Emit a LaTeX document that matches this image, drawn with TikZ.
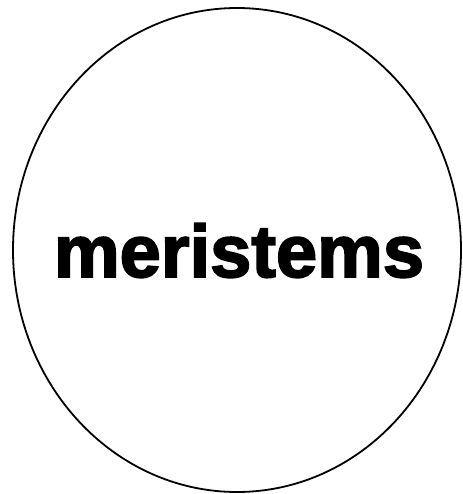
\documentclass[tikz,border=0pt]{standalone}
\usepackage{fontspec}
\setmainfont{Liberation Sans}[BoldFeatures={FakeBold=2.5}]
\begin{document}
\begin{tikzpicture}[x=1pt, y=-1pt, every node/.style={font=\bfseries\fontsize{74}{80}\selectfont}]
	\useasboundingbox (0,0) rectangle (462,494);
	\draw[line width=1.8pt] (237,250) ellipse [x radius=224, y radius=242];
	\node[anchor=base] (label) at (239,277) {meristems};
\end{tikzpicture}
\end{document}
